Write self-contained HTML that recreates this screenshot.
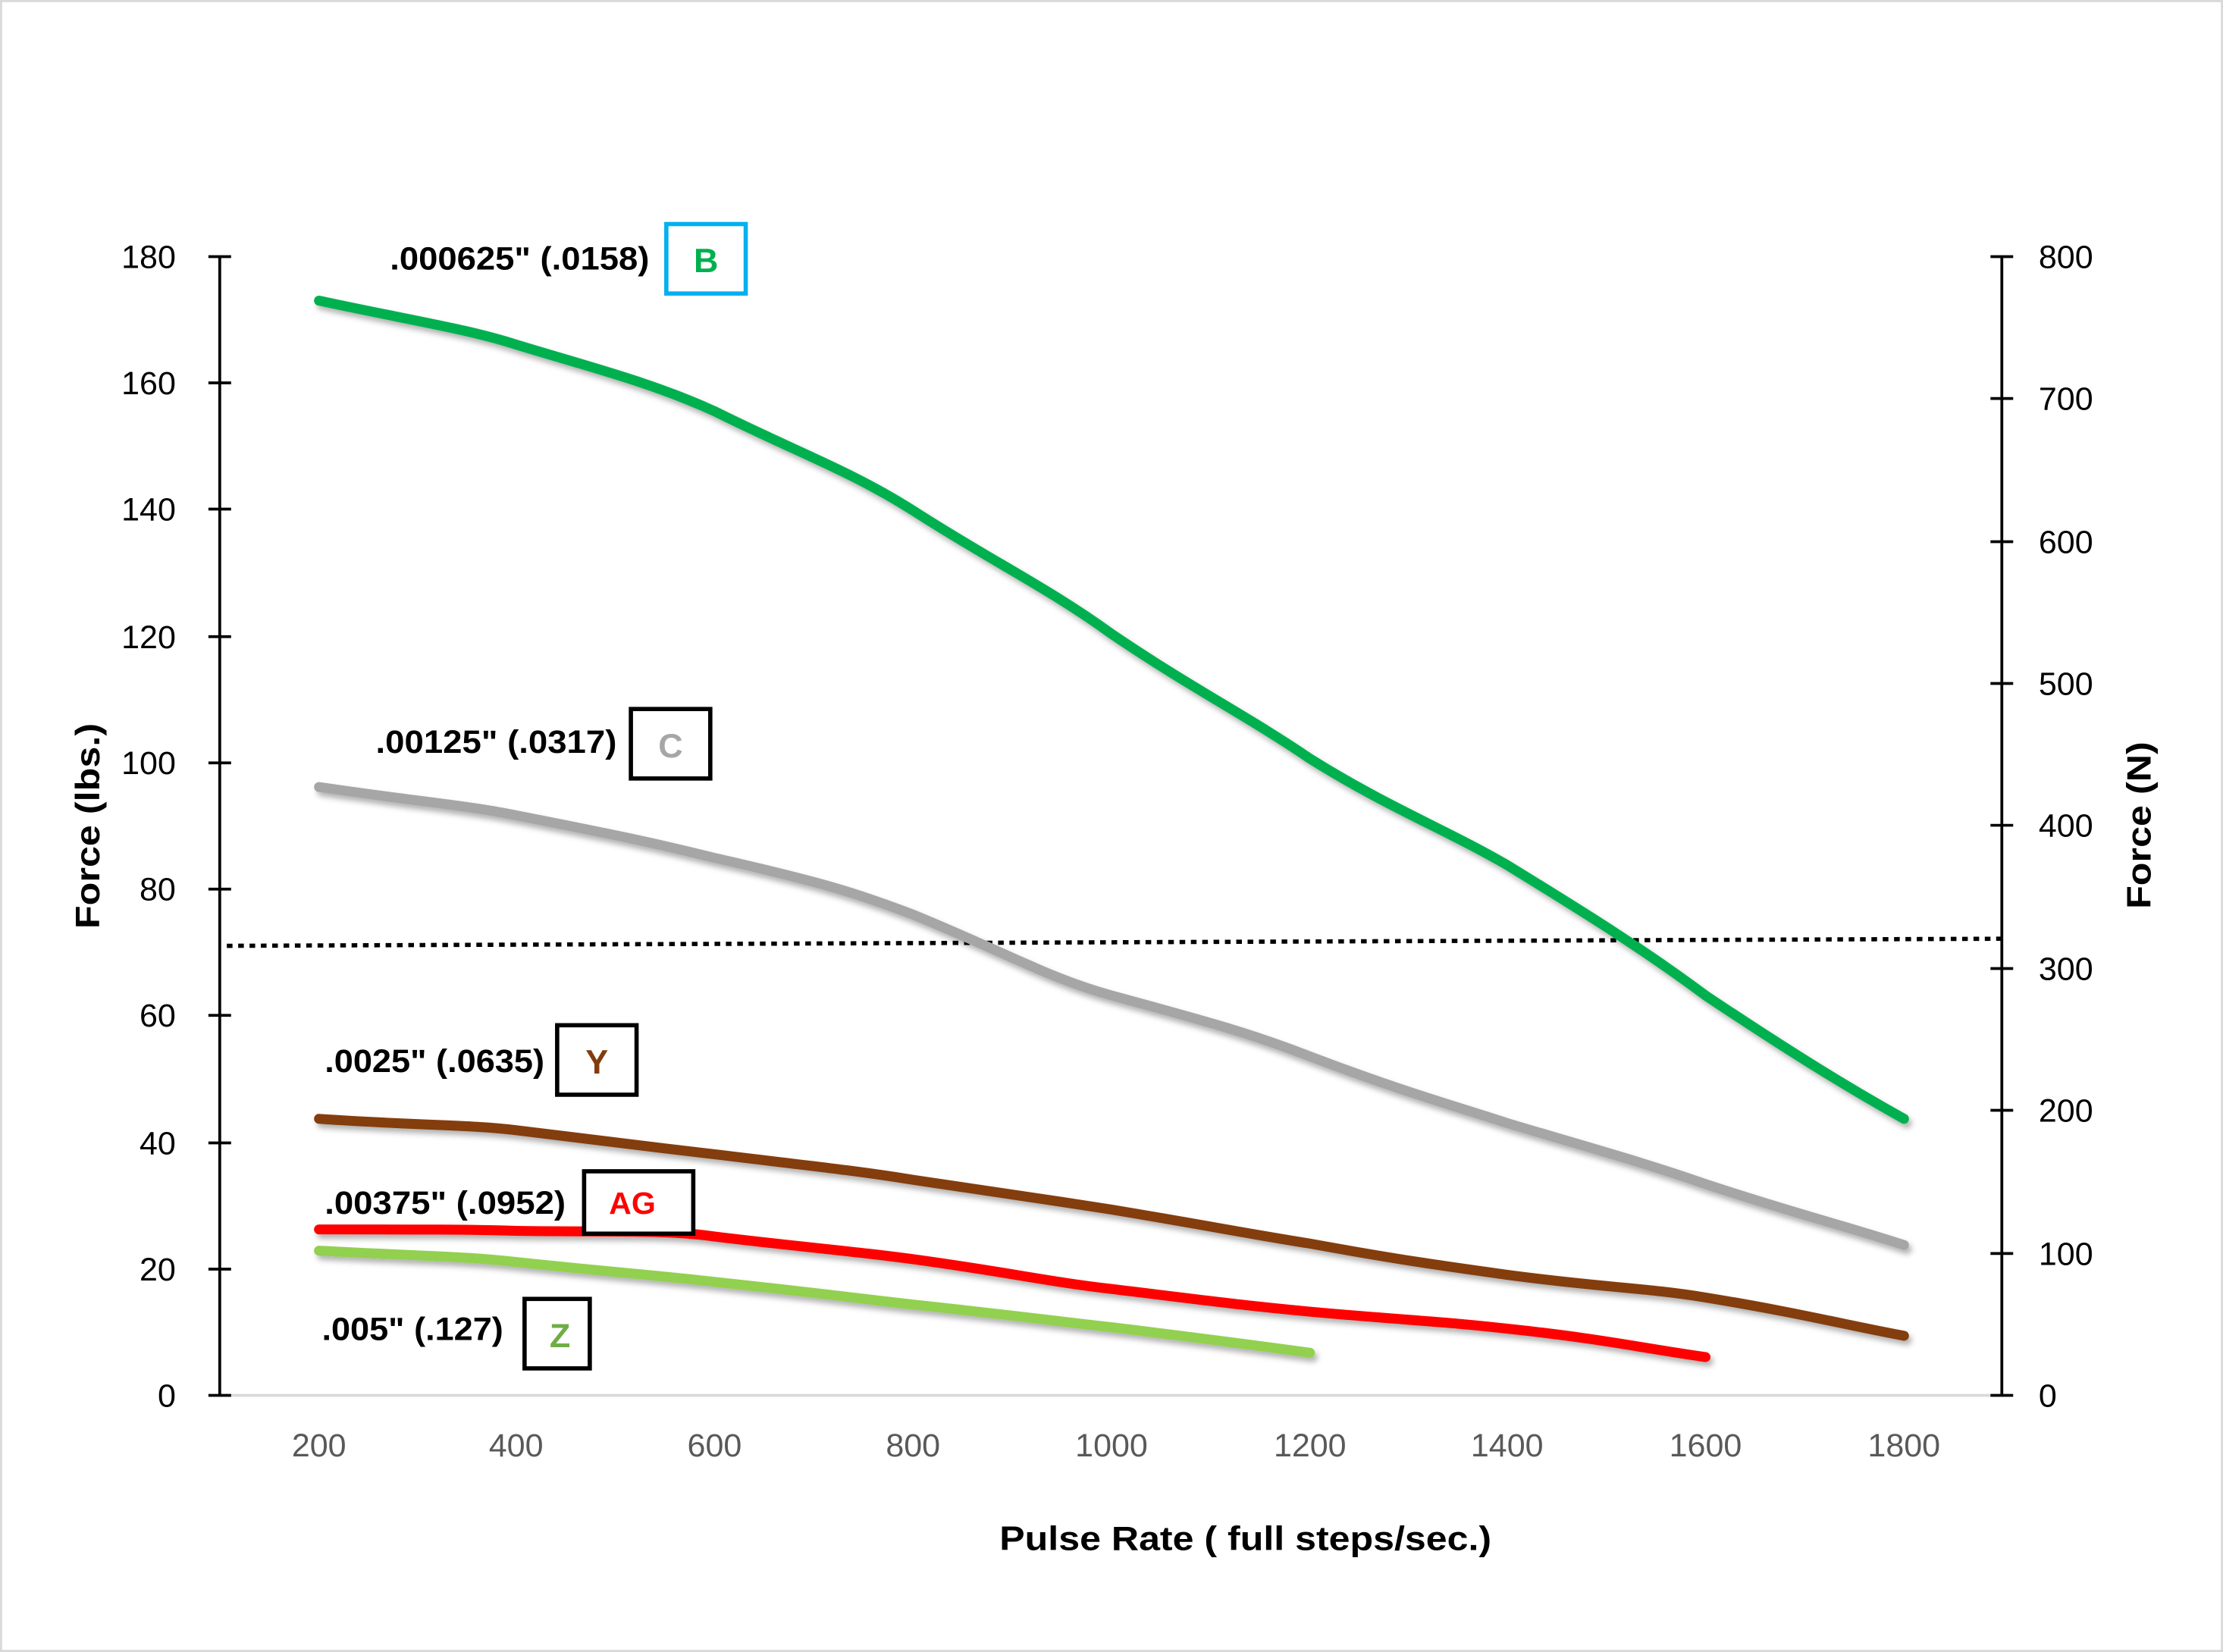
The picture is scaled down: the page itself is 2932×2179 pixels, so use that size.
<!DOCTYPE html>
<html><head><style>html,body{margin:0;padding:0;background:#fff}svg{display:block}</style></head><body>
<svg width="2932" height="2179" viewBox="0 0 1568 1165" preserveAspectRatio="none" xmlns="http://www.w3.org/2000/svg" font-family="Liberation Sans, sans-serif">
<defs><filter id="sh" x="-5%" y="-20%" width="110%" height="140%"><feDropShadow dx="2" dy="3" stdDeviation="2" flood-color="#000" flood-opacity="0.3"/></filter></defs>
<rect x="0.5" y="0.5" width="1567" height="1164" fill="#fff" stroke="#d9d9d9" stroke-width="2"/>
<line x1="155" y1="984" x2="1412" y2="984" stroke="#d9d9d9" stroke-width="2"/>
<g stroke="#000" stroke-width="2">
<line x1="155" y1="181" x2="155" y2="984"/>
<line x1="1412" y1="181" x2="1412" y2="984"/>
<line x1="147" y1="181" x2="163" y2="181"/><line x1="147" y1="270" x2="163" y2="270"/><line x1="147" y1="359" x2="163" y2="359"/><line x1="147" y1="449" x2="163" y2="449"/><line x1="147" y1="538" x2="163" y2="538"/><line x1="147" y1="627" x2="163" y2="627"/><line x1="147" y1="716" x2="163" y2="716"/><line x1="147" y1="806" x2="163" y2="806"/><line x1="147" y1="895" x2="163" y2="895"/><line x1="147" y1="984" x2="163" y2="984"/>
<line x1="1404" y1="181" x2="1420" y2="181"/><line x1="1404" y1="281" x2="1420" y2="281"/><line x1="1404" y1="382" x2="1420" y2="382"/><line x1="1404" y1="482" x2="1420" y2="482"/><line x1="1404" y1="582" x2="1420" y2="582"/><line x1="1404" y1="683" x2="1420" y2="683"/><line x1="1404" y1="783" x2="1420" y2="783"/><line x1="1404" y1="884" x2="1420" y2="884"/><line x1="1404" y1="984" x2="1420" y2="984"/>
</g>
<g font-size="23" fill="#000" text-anchor="end">
<text x="124" y="189">180</text><text x="124" y="278">160</text><text x="124" y="367">140</text><text x="124" y="457">120</text><text x="124" y="546">100</text><text x="124" y="635">80</text><text x="124" y="724">60</text><text x="124" y="814">40</text><text x="124" y="903">20</text><text x="124" y="992">0</text>
</g>
<g font-size="23" fill="#000">
<text x="1438" y="189">800</text><text x="1438" y="289">700</text><text x="1438" y="390">600</text><text x="1438" y="490">500</text><text x="1438" y="590">400</text><text x="1438" y="691">300</text><text x="1438" y="791">200</text><text x="1438" y="892">100</text><text x="1438" y="992">0</text>
</g>
<g font-size="23" fill="#595959" text-anchor="middle">
<text x="225" y="1027">200</text><text x="364" y="1027">400</text><text x="504" y="1027">600</text><text x="644" y="1027">800</text><text x="784" y="1027">1000</text><text x="924" y="1027">1200</text><text x="1063" y="1027">1400</text><text x="1203" y="1027">1600</text><text x="1343" y="1027">1800</text>
</g>
<text x="705" y="1093" font-size="24" font-weight="bold" textLength="347" lengthAdjust="spacingAndGlyphs">Pulse Rate ( full steps/sec.)</text>
<text transform="translate(70,655) rotate(-90)" font-size="24" font-weight="bold" textLength="145" lengthAdjust="spacingAndGlyphs">Force (lbs.)</text>
<text transform="translate(1517,641) rotate(-90)" font-size="24" font-weight="bold" textLength="118" lengthAdjust="spacingAndGlyphs">Force (N)</text>
<line x1="160" y1="667" x2="1412" y2="662" stroke="#000" stroke-width="3" stroke-dasharray="4,4"/>
<g fill="none" stroke-width="7" stroke-linecap="round" stroke-linejoin="round" filter="url(#sh)">
<path stroke="#00b050" d="M225,212 C290,226 330,232 364,243 C420,260 460,270 504,290 C560,318 600,332 644,360 C700,396 740,415 784,447 C840,485 880,505 924,535 C980,570 1020,585 1063,610 C1120,645 1160,670 1203,702 C1260,740 1300,765 1343,789"/>
<path stroke="#a6a6a6" d="M225,555 C300,566 330,568 364,575 C430,588 460,594 504,605 C570,620 600,628 644,645 C710,672 740,690 784,702 C850,720 880,728 924,745 C990,770 1020,778 1063,792 C1130,812 1160,820 1203,835 C1270,857 1300,864 1343,878"/>
<path stroke="#843c0c" d="M225,789 C300,794 330,793 364,797 C430,805 460,809 504,814 C570,822 600,825 644,832 C710,842 740,846 784,853 C850,864 880,870 924,877 C990,889 1020,893 1063,899 C1130,908 1160,908 1203,915 C1270,926 1300,934 1343,942"/>
<path stroke="#ff0000" d="M225,867 C300,867 330,867 364,868 C430,869 470,867 504,872 C570,880 600,882 644,888 C710,897 740,904 784,909 C850,917 880,921 924,925 C990,931 1020,932 1063,937 C1130,944 1160,951 1203,957"/>
<path stroke="#92d050" d="M225,882 C300,886 330,886 364,890 C430,897 460,899 504,904 C570,911 600,915 644,920 C710,927 740,931 784,936 C850,944 880,948 924,954"/>
</g>
<g font-size="23" font-weight="bold" fill="#000" lengthAdjust="spacingAndGlyphs">
<text x="275" y="190" textLength="183" lengthAdjust="spacingAndGlyphs">.000625" (.0158)</text>
<text x="265" y="531" textLength="170" lengthAdjust="spacingAndGlyphs">.00125" (.0317)</text>
<text x="229" y="756" textLength="155" lengthAdjust="spacingAndGlyphs">.0025" (.0635)</text>
<text x="229" y="856" textLength="170" lengthAdjust="spacingAndGlyphs">.00375" (.0952)</text>
<text x="227" y="945" textLength="128" lengthAdjust="spacingAndGlyphs">.005" (.127)</text>
</g>
<rect x="470" y="158" width="56" height="49" fill="#fff" stroke="#00b0f0" stroke-width="3"/>
<text x="498" y="192" font-size="24" font-weight="bold" fill="#00b050" text-anchor="middle">B</text>
<rect x="445" y="500" width="56" height="49" fill="#fff" stroke="#000" stroke-width="3"/>
<text x="473" y="534" font-size="24" font-weight="bold" fill="#a6a6a6" text-anchor="middle">C</text>
<rect x="393" y="723" width="56" height="49" fill="#fff" stroke="#000" stroke-width="3"/>
<text x="421" y="757" font-size="24" font-weight="bold" fill="#843c0c" text-anchor="middle">Y</text>
<rect x="412" y="826" width="77" height="44" fill="#fff" stroke="#000" stroke-width="3"/>
<text x="446" y="856" font-size="22" font-weight="bold" fill="#ff0000" text-anchor="middle">AG</text>
<rect x="370" y="916" width="46" height="49" fill="#fff" stroke="#000" stroke-width="3"/>
<text x="395" y="950" font-size="24" font-weight="bold" fill="#70ad47" text-anchor="middle">Z</text>
</svg>
</body></html>
